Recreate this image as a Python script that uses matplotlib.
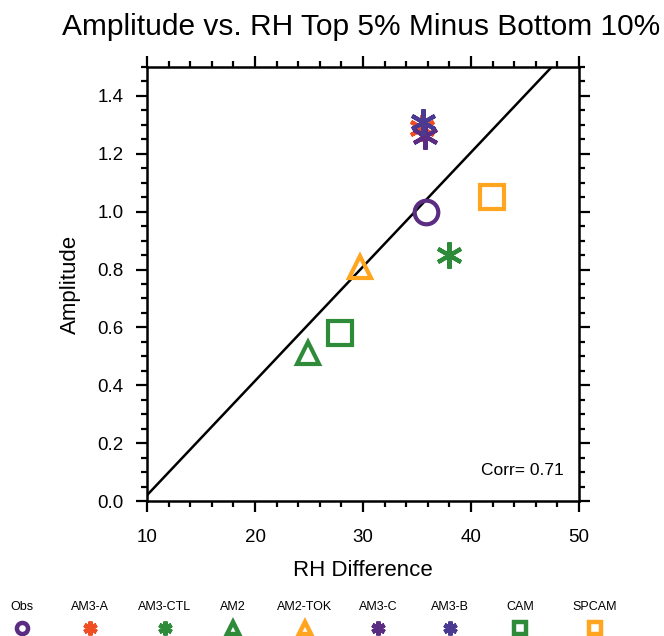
import matplotlib
matplotlib.use("Agg")
import matplotlib.pyplot as plt
from matplotlib.ticker import MultipleLocator

plt.rcParams['font.family'] = ['Liberation Sans', 'DejaVu Sans']

models = ["Obs", "AM3-A", "AM3-CTL", "AM2", "AM2-TOK", "AM3-C", "AM3-B", "CAM", "SPCAM"]
rh_diff = [35.8, 35.5, 38.0, 24.9, 29.7, 35.7, 35.6, 27.9, 41.9]
amplitude = [1.00, 1.29, 0.85, 0.51, 0.81, 1.26, 1.31, 0.58, 1.05]
colors = ["#5a2d82", "#f04e23", "#2e8b3a", "#2e8b3a", "#ffa51f", "#5a2d82", "#4b3a91", "#2e8b3a", "#ffa51f"]
markers = ["o", (6, 2, 0), (6, 2, 0), "^", "^", (6, 2, 0), (6, 2, 0), "s", "s"]
legend_x = [22, 90, 165, 233, 305, 378, 450, 520, 595]

fit_slope = 0.0395
fit_intercept = -0.375
corr_text = "Corr= 0.71"

fig = plt.figure(figsize=(6.64, 6.36), dpi=100)
ax = fig.add_axes([147/664, 1-501/636, 432/664, 434/636])

ax.set_xlim(10, 50)
ax.set_ylim(0, 1.5)

xs = [10, 50]
ax.plot(xs, [fit_intercept + fit_slope*x for x in xs], color="black", lw=1.8, zorder=2)

for x, y, c, m in zip(rh_diff, amplitude, colors, markers):
    ms = 19 if isinstance(m, tuple) else 17
    if m == "^":
        ms = 16
    ax.plot([x], [y], linestyle="none", marker=m, markersize=ms, markerfacecolor="none",
            markeredgecolor=c, markeredgewidth=3.0, zorder=3)

ax.xaxis.set_major_locator(MultipleLocator(10))
ax.xaxis.set_minor_locator(MultipleLocator(2))
ax.yaxis.set_major_locator(MultipleLocator(0.2))
ax.yaxis.set_minor_locator(MultipleLocator(0.05))
ax.yaxis.set_major_formatter(matplotlib.ticker.FormatStrFormatter("%.1f"))
ax.tick_params(which="both", direction="out", top=True, right=True, width=1.6, labelsize=13.5)
ax.tick_params(which="major", length=8)
ax.tick_params(axis="x", which="major", pad=12)
ax.tick_params(axis="y", which="major", pad=9)
ax.tick_params(which="minor", length=4)
for s in ax.spines.values():
    s.set_linewidth(1.8)

ax.set_xlabel("RH Difference", fontsize=16, labelpad=10)
ax.set_ylabel("Amplitude", fontsize=16, labelpad=12)
ax.set_title("Amplitude vs. RH Top 5% Minus Bottom 10%", fontsize=21.5, pad=23, x=0.495)
ax.text(0.965, 0.07, corr_text, transform=ax.transAxes, ha="right", va="center", fontsize=12.5)

for lab, px, c, m in zip(models, legend_x, colors, markers):
    fig.text(px/664, 1-607/636, lab, ha="center", va="center", fontsize=9)
    ms = 10 if isinstance(m, tuple) else 8
    fig.lines.append(matplotlib.lines.Line2D([px/664], [1-628/636], transform=fig.transFigure,
                     linestyle="none", marker=m, markersize=ms, markerfacecolor="none",
                     markeredgecolor=c, markeredgewidth=3.2))

fig.savefig("out.png", dpi=100)
